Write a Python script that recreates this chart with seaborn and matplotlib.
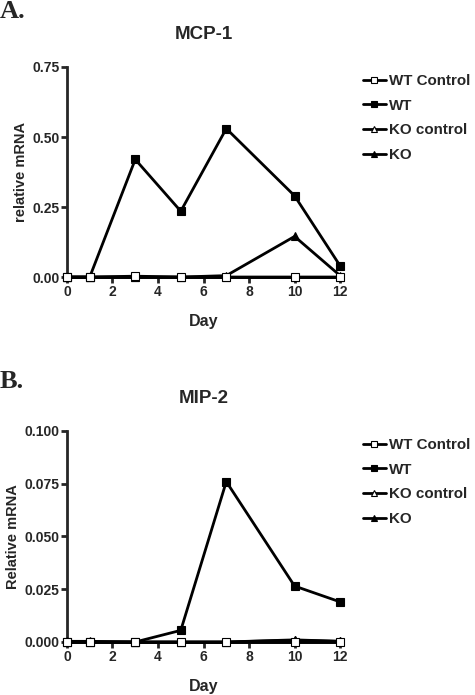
import numpy as np
import pandas as pd
import matplotlib
matplotlib.use("Agg")
import matplotlib.pyplot as plt
import seaborn as sns

sns.set_style("ticks")
plt.rcParams['font.family'] = ['Liberation Sans', 'DejaVu Sans']
plt.rcParams['font.weight'] = 'bold'

# ---- data ----
days = [0, 1, 3, 5, 7, 10, 12]
series_names = ['WT Control', 'WT', 'KO control', 'KO']

mcp1_wt_control = [0.0, 0.0, 0.003, 0.0, 0.0, 0.0, 0.0]
mcp1_wt = [0.0, 0.0, 0.42, 0.235, 0.53, 0.29, 0.04]
mcp1_ko_control = [0.0, 0.0, 0.0, 0.0, 0.0, 0.0, 0.0]
mcp1_ko = [0.0, 0.0, 0.0, 0.0, 0.005, 0.145, 0.005]

mip2_wt_control = [0.0, 0.0, 0.0, 0.0, 0.0, 0.0, 0.0]
mip2_wt = [0.0, 0.0, 0.0, 0.0055, 0.076, 0.0265, 0.019]
mip2_ko_control = [0.0003, 0.0003, 0.0, 0.0, 0.0, 0.0008, 0.0003]
mip2_ko = [0.0, 0.0, 0.0, 0.0, 0.0, 0.001, 0.0003]

# marker styles (marker, face colour)
styles = {
    'WT Control': ('s', 'white'),
    'WT': ('s', 'black'),
    'KO control': ('^', 'white'),
    'KO': ('^', 'black'),
}


def draw_panel(ax, values, yticks, ylabel, title):
    df = pd.DataFrame({'Day': days * 4,
                       'val': sum(values, []),
                       'series': np.repeat(series_names, len(days))})
    # draw controls last so open markers sit on top
    order = ['KO', 'KO control', 'WT', 'WT Control']
    for z, name in enumerate(order):
        m, fc = styles[name]
        sub = df[df['series'] == name]
        sns.lineplot(data=sub, x='Day', y='val', ax=ax, color='black',
                     linewidth=2.0, marker=m, markersize=6,
                     markerfacecolor=fc, markeredgecolor='black',
                     markeredgewidth=0.8, label=name, zorder=3 + z,
                     clip_on=False)
    ax.set_xlim(0, 12)
    ax.set_ylim(yticks[0], yticks[-1])
    ax.set_xticks(range(0, 13, 2))
    ax.set_yticks(yticks)
    ax.set_xlabel('Day', fontsize=11.5, fontweight='bold', labelpad=11)
    ax.set_ylabel(ylabel, fontsize=10.5, fontweight='bold', labelpad=3)
    ax.set_title(title, fontsize=13.5, fontweight='bold', pad=20)
    for s in ['top', 'right']:
        ax.spines[s].set_visible(False)
    for s in ['left', 'bottom']:
        ax.spines[s].set_linewidth(2.0)
        ax.spines[s].set_zorder(2)
    ax.tick_params(width=2.0, length=4, labelsize=10, pad=1.5)
    for lab in ax.get_xticklabels() + ax.get_yticklabels():
        lab.set_fontweight('bold')
    handles, labels = ax.get_legend_handles_labels()
    idx = [labels.index(n) for n in series_names]
    ax.legend([handles[i] for i in idx], series_names, frameon=False,
              loc='upper left', bbox_to_anchor=(1.062, 0.995),
              prop={'size': 10.9, 'weight': 'bold'}, handlelength=1.5,
              handletextpad=0.2, labelspacing=0.7, borderaxespad=0,
              markerscale=0.75)


fig = plt.figure(figsize=(4.75, 6.95), dpi=100)
ax1 = fig.add_axes([0.141, 0.6014, 0.575, 0.3022])
ax2 = fig.add_axes([0.141, 0.0763, 0.575, 0.3036])

draw_panel(ax1, [mcp1_wt_control, mcp1_wt, mcp1_ko_control, mcp1_ko],
           [0.0, 0.25, 0.5, 0.75], 'relative mRNA', 'MCP-1')
ax1.yaxis.set_major_formatter(matplotlib.ticker.FormatStrFormatter('%.2f'))
draw_panel(ax2, [mip2_wt_control, mip2_wt, mip2_ko_control, mip2_ko],
           [0.0, 0.025, 0.05, 0.075, 0.1], 'Relative mRNA', 'MIP-2')
ax2.yaxis.set_major_formatter(matplotlib.ticker.FormatStrFormatter('%.3f'))

fig.text(0.0, 1.0, 'A.', fontsize=19, fontweight='bold', va='top',
         family=['Liberation Serif', 'DejaVu Serif'])
fig.text(0.0, 0.468, 'B.', fontsize=19, fontweight='bold', va='top',
         family=['Liberation Serif', 'DejaVu Serif'])

fig.savefig('out.png', dpi=100)
